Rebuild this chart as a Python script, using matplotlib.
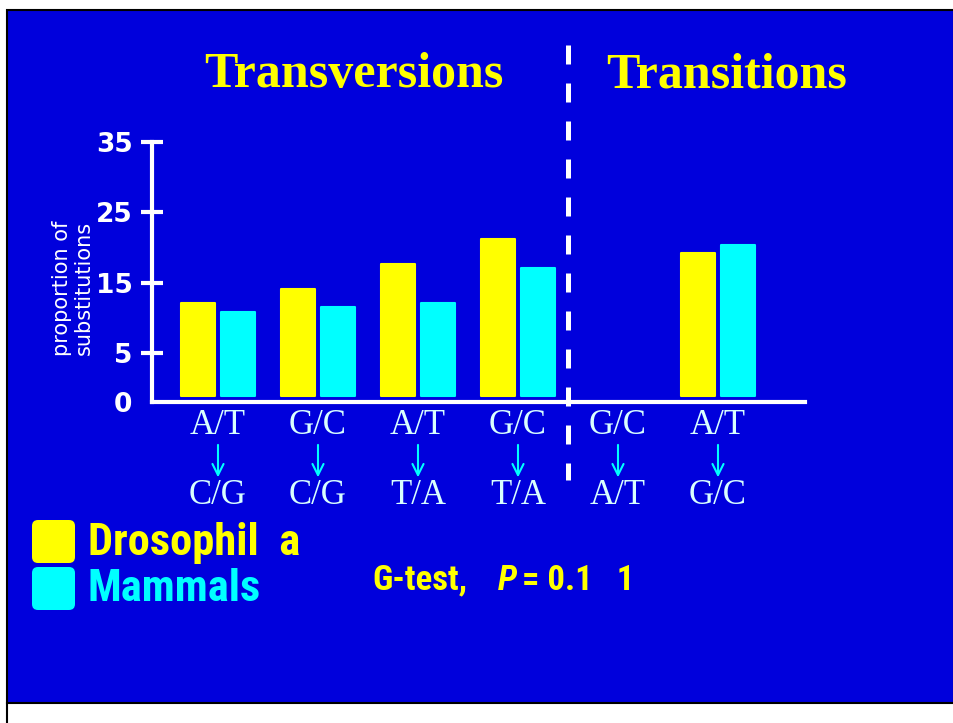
"""
Transversions vs transitions in Drosophila and mammals (slide recreation)
"""
import numpy as np
import matplotlib.pyplot as plt
from matplotlib import font_manager
from matplotlib.patches import FancyBboxPatch, Rectangle
from matplotlib.lines import Line2D

# data
from_base = ['A/T', 'G/C', 'A/T', 'G/C', 'G/C', 'A/T']
to_base = ['C/G', 'C/G', 'T/A', 'T/A', 'A/T', 'G/C']
drosophila = [12.1, 14.1, 17.7, 21.2, np.nan, 19.2]
mammals = [10.8, 11.5, 12.1, 17.1, np.nan, 20.4]
ytick_values = [5, 15, 25, 35]

BLUE = '#0000dc'
YELLOW = '#ffff00'
CYAN = '#00ffff'
PALE = '#d8ffff'

# pick a narrow sans if one is around
installed = {f.name for f in font_manager.fontManager.ttflist}
narrow_font = 'Liberation Sans'
for cand in ['Liberation Sans Narrow', 'Roboto Condensed', 'DejaVu Sans Condensed',
             'Open Sans Condensed']:
    if cand in installed:
        narrow_font = cand
        break

W, H = 954, 723
fig = plt.figure(figsize=(W / 100, H / 100), dpi=100)
fig.patch.set_facecolor('white')

def fx(px):
    return px / W

def fy(py):
    return 1 - py / H

# slide background
fig.add_artist(Rectangle((fx(7), fy(703)), 1 - fx(7), fy(10) - fy(703),
                         transform=fig.transFigure, facecolor=BLUE,
                         edgecolor='black', linewidth=1.5, zorder=0))
fig.add_artist(Line2D([fx(7), fx(7)], [0, fy(703)], transform=fig.transFigure,
                      color='black', linewidth=1.5))

ax = fig.add_axes([fx(152), fy(402), fx(805) - fx(152), fy(142) - fy(402)])
ax.set_facecolor('none')
base = -1.97
ax.set_xlim(-0.66, 5.87)
ax.set_ylim(base, 35)

x = np.arange(len(from_base))
bar_bottom = -1.1
w = 0.34
dros = np.array(drosophila)
mam = np.array(mammals)
ok = ~np.isnan(dros)
ax.bar(x[ok] - 0.2, dros[ok] - bar_bottom, w, bottom=bar_bottom, color=YELLOW,
       edgecolor=YELLOW, linewidth=1.5, joinstyle='round', zorder=2)
ok = ~np.isnan(mam)
ax.bar(x[ok] + 0.2, mam[ok] - bar_bottom, w, bottom=bar_bottom, color=CYAN,
       edgecolor=CYAN, linewidth=1.5, joinstyle='round', zorder=2)

for s in ['top', 'right']:
    ax.spines[s].set_visible(False)
for s in ['left', 'bottom']:
    ax.spines[s].set_color('white')
    ax.spines[s].set_linewidth(3)
ax.set_xticks([])
ax.set_yticks([base] + ytick_values)
ax.set_yticklabels(['0'] + [str(v) for v in ytick_values])
ax.tick_params(axis='y', direction='inout', length=16, width=3, color='white',
               labelcolor='white', labelsize=19, pad=6)
for lab in ax.get_yticklabels():
    lab.set_fontweight('bold')
ax.yaxis.get_major_ticks()[0].tick1line.set_visible(False)

fig.text(fx(73), fy(288), 'proportion of\nsubstitutions', rotation=90,
         color='white', fontsize=15, ha='center', va='center',
         linespacing=1.15)

# category labels with arrows
tr = ax.get_xaxis_transform()
for i in range(len(from_base)):
    ax.text(i, -0.092, from_base[i], transform=tr, ha='center', va='center',
            color=PALE, fontsize=25, family='Liberation Serif', clip_on=False)
    ax.text(i, -0.36, to_base[i], transform=tr, ha='center', va='center',
            color=PALE, fontsize=25, family='Liberation Serif', clip_on=False)
    ax.annotate('', xy=(i, -0.29), xytext=(i, -0.165), xycoords=tr,
                textcoords=tr, annotation_clip=False,
                arrowprops=dict(arrowstyle='->', color=CYAN, lw=1.5,
                                mutation_scale=20, shrinkA=0, shrinkB=0))

# titles
fig.text(fx(354), fy(75), 'Transversions', color=YELLOW, fontsize=36,
         fontweight='bold', family='Liberation Serif', ha='center', va='center')
fig.text(fx(727), fy(75), 'Transitions', color=YELLOW, fontsize=36,
         fontweight='bold', family='Liberation Serif', ha='center', va='center')

# dashed divider
fig.add_artist(Line2D([fx(568), fx(568)], [fy(45), fy(480)],
                      transform=fig.transFigure, color='white', linewidth=3.6,
                      linestyle=(0, (3.8, 3.8))))

# legend
for top, col in [(520, YELLOW), (567, CYAN)]:
    fig.add_artist(FancyBboxPatch((0.32, (H - top - 43) / 100), 0.43, 0.43,
                                  boxstyle='round,pad=0,rounding_size=0.06',
                                  transform=fig.dpi_scale_trans,
                                  facecolor=col, edgecolor='none'))
fig.text(fx(88), fy(543), 'Drosophil  a', color=YELLOW, fontsize=32,
         fontweight='bold', family=narrow_font, ha='left', va='center')
fig.text(fx(88), fy(589), 'Mammals', color=CYAN, fontsize=32,
         fontweight='bold', family=narrow_font, ha='left', va='center')

fig.text(fx(372), fy(580), 'G-test,', color=YELLOW, fontsize=25,
         fontweight='bold', family=narrow_font, ha='left', va='center')
fig.text(fx(498), fy(580), 'P', color=YELLOW, fontsize=25, style='italic',
         fontweight='bold', family=narrow_font, ha='left', va='center')
fig.text(fx(522), fy(580), '= 0.1   1', color=YELLOW, fontsize=25,
         fontweight='bold', family=narrow_font, ha='left', va='center')

plt.savefig('out.png', dpi=100)
